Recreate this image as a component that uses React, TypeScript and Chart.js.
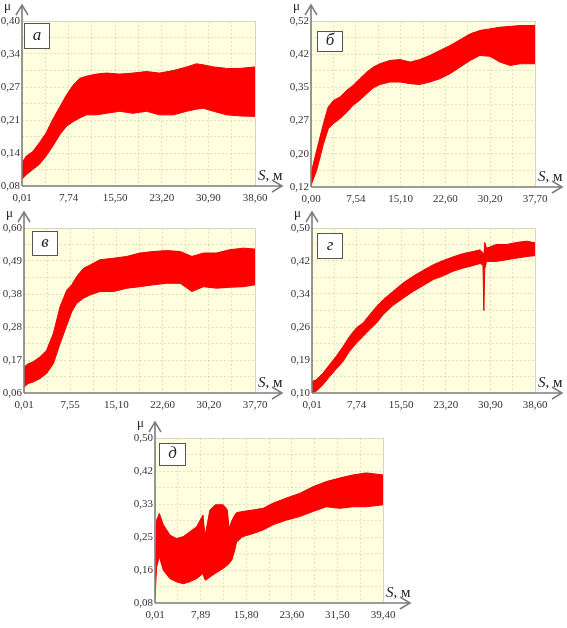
import React, { useEffect, useRef } from 'react';
import { Chart, registerables } from 'chart.js';

Chart.register(...registerables);

// ---------- Panel а ----------
const sA = [0.01, 0.73, 1.8, 2.9, 4.0, 5.1, 6.3, 7.4, 8.5, 9.6, 10.7, 12.3, 14.0, 16.2, 18.4, 20.6, 22.8, 25.1, 27.3, 28.9, 30.0, 31.7, 33.9, 36.1, 38.6];
const upA = [0.125, 0.138, 0.147, 0.164, 0.183, 0.209, 0.234, 0.257, 0.276, 0.289, 0.293, 0.297, 0.299, 0.297, 0.299, 0.302, 0.299, 0.304, 0.311, 0.317, 0.315, 0.311, 0.308, 0.308, 0.311];
const loA = [0.093, 0.102, 0.112, 0.122, 0.138, 0.157, 0.18, 0.196, 0.205, 0.212, 0.218, 0.218, 0.221, 0.225, 0.221, 0.225, 0.218, 0.218, 0.225, 0.229, 0.231, 0.225, 0.218, 0.216, 0.215];
const yLabA = ['0,08', '0,14', '0,21', '0,27', '0,34', '0,40'];
const xLabA = ['0,01', '7,74', '15,50', '23,20', '30,90', '38,60'];

// ---------- Panel б ----------
const sB = [0, 0.95, 2.1, 2.9, 3.8, 4.9, 6.0, 7.1, 8.2, 9.4, 10.5, 11.6, 13.3, 15.0, 16.7, 18.3, 20.0, 21.7, 23.4, 25.1, 26.8, 28.4, 30.1, 31.8, 33.5, 35.2, 37.7];
const upB = [0.152, 0.208, 0.273, 0.313, 0.329, 0.337, 0.353, 0.365, 0.381, 0.397, 0.409, 0.417, 0.425, 0.427, 0.421, 0.427, 0.437, 0.449, 0.461, 0.475, 0.489, 0.497, 0.501, 0.505, 0.507, 0.509, 0.509];
const loB = [0.124, 0.16, 0.224, 0.26, 0.273, 0.285, 0.3, 0.317, 0.329, 0.345, 0.359, 0.367, 0.373, 0.373, 0.369, 0.367, 0.373, 0.381, 0.393, 0.409, 0.425, 0.437, 0.435, 0.421, 0.413, 0.417, 0.417];
const yLabB = ['0,12', '0,20', '0,27', '0,35', '0,42', '0,52'];
const xLabB = ['0,00', '7,54', '15,10', '22,60', '30,20', '37,70'];

// ---------- Panel в ----------
const sV = [0.01, 0.72, 1.5, 2.6, 3.7, 4.8, 5.9, 7.0, 7.8, 8.6, 9.7, 10.8, 12.4, 14.6, 16.8, 18.9, 21.1, 23.3, 25.5, 27.4, 29.3, 31.4, 33.6, 35.8, 37.7];
const upV = [0.145, 0.156, 0.162, 0.178, 0.2, 0.255, 0.343, 0.397, 0.414, 0.441, 0.468, 0.479, 0.496, 0.501, 0.507, 0.518, 0.523, 0.526, 0.523, 0.507, 0.518, 0.518, 0.529, 0.534, 0.531];
const loV = [0.08, 0.091, 0.096, 0.107, 0.124, 0.156, 0.222, 0.282, 0.326, 0.353, 0.37, 0.381, 0.392, 0.392, 0.403, 0.408, 0.414, 0.419, 0.419, 0.392, 0.408, 0.403, 0.406, 0.408, 0.414];
const yLabV = ['0,06', '0,17', '0,28', '0,38', '0,49', '0,60'];
const xLabV = ['0,01', '7,55', '15,10', '22,60', '30,20', '37,70'];

// ---------- Panel г ----------
const sG = [0.01, 0.76, 1.9, 3.07, 4.2, 5.4, 6.5, 7.7, 8.85, 10.0, 11.2, 12.3, 14.0, 15.8, 17.5, 19.2, 21.0, 22.7, 24.4, 26.2, 27.9, 29.1, 29.6, 29.75, 29.9, 30.2, 31.9, 33.7, 35.4, 37.2, 38.6];
const upG = [0.128, 0.132, 0.148, 0.169, 0.189, 0.213, 0.237, 0.258, 0.27, 0.29, 0.31, 0.326, 0.346, 0.367, 0.383, 0.397, 0.411, 0.421, 0.43, 0.438, 0.443, 0.447, 0.44, 0.43, 0.465, 0.451, 0.46, 0.46, 0.465, 0.468, 0.464];
const loG = [0.1, 0.104, 0.12, 0.14, 0.158, 0.177, 0.201, 0.221, 0.237, 0.254, 0.27, 0.29, 0.312, 0.33, 0.346, 0.36, 0.375, 0.384, 0.395, 0.403, 0.409, 0.414, 0.41, 0.3, 0.4, 0.419, 0.419, 0.423, 0.427, 0.431, 0.433];
const yLabG = ['0,10', '0,19', '0,26', '0,34', '0,42', '0,50'];
const xLabG = ['0,01', '7,74', '15,50', '23,20', '30,90', '38,60'];

// ---------- Panel д ----------
const sD = [0.01, 0.3, 0.76, 1.45, 2.6, 3.7, 4.9, 6.0, 7.2, 8.3, 8.6, 8.8, 9.5, 10.4, 11.8, 12.5, 12.8, 13.3, 13.8, 14.1, 15.2, 17.0, 18.7, 20.4, 22.7, 25.0, 27.3, 29.6, 31.9, 34.2, 36.5, 39.4];
const upD = [0.163, 0.291, 0.308, 0.279, 0.253, 0.244, 0.249, 0.261, 0.274, 0.304, 0.257, 0.262, 0.317, 0.33, 0.33, 0.317, 0.27, 0.29, 0.304, 0.31, 0.313, 0.317, 0.321, 0.334, 0.347, 0.359, 0.376, 0.389, 0.398, 0.406, 0.411, 0.406];
const loD = [0.095, 0.172, 0.198, 0.163, 0.142, 0.134, 0.129, 0.134, 0.142, 0.155, 0.14, 0.138, 0.146, 0.155, 0.168, 0.176, 0.18, 0.19, 0.215, 0.235, 0.249, 0.257, 0.266, 0.279, 0.291, 0.3, 0.313, 0.325, 0.321, 0.325, 0.325, 0.33];
const yLabD = ['0,08', '0,16', '0,25', '0,33', '0,42', '0,50'];
const xLabD = ['0,01', '7,89', '15,80', '23,60', '31,50', '39,40'];

type Spec = {
  letter: string;
  L: number; T: number; R: number; B: number;
  xMin: number; xMax: number; yMin: number; yMax: number;
  s: number[]; up: number[]; lo: number[];
  xLab: string[]; yLab: string[];
  box: [number, number, number, number];
};

const PANELS: Spec[] = [
  { letter: 'а', L: 22, T: 21, R: 255, B: 186, xMin: 0.01, xMax: 38.6, yMin: 0.08, yMax: 0.4, s: sA, up: upA, lo: loA, xLab: xLabA, yLab: yLabA, box: [2, 2, 25, 25] },
  { letter: 'б', L: 311, T: 21, R: 535, B: 187, xMin: 0, xMax: 37.7, yMin: 0.12, yMax: 0.52, s: sB, up: upB, lo: loB, xLab: xLabB, yLab: yLabB, box: [6, 10, 25, 20] },
  { letter: 'в', L: 24, T: 228, R: 255, B: 393, xMin: 0.01, xMax: 37.7, yMin: 0.06, yMax: 0.6, s: sV, up: upV, lo: loV, xLab: xLabV, yLab: yLabV, box: [8, 3, 25, 24] },
  { letter: 'г', L: 312, T: 228, R: 535, B: 393, xMin: 0.01, xMax: 38.6, yMin: 0.1, yMax: 0.5, s: sG, up: upG, lo: loG, xLab: xLabG, yLab: yLabG, box: [5, 5, 25, 25] },
  { letter: 'д', L: 155, T: 438, R: 383, B: 603, xMin: 0.01, xMax: 39.4, yMin: 0.08, yMax: 0.5, s: sD, up: upD, lo: loD, xLab: xLabD, yLab: yLabD, box: [4, 5, 26, 22] },
];

const YW = 22;
const XH = 20;
const PAD_T = 21;
const PAD_R = 31;
const SERIF = "'Liberation Serif', 'Times New Roman', serif";
const AXIS = '#7f7f7f';

const decor = {
  id: 'decor',
  beforeDraw(chart: any) {
    const { ctx, chartArea } = chart;
    const { left, top, right, bottom } = chartArea;
    ctx.save();
    ctx.fillStyle = '#ffffe0';
    ctx.fillRect(left, top, right - left, bottom - top);
    ctx.restore();
  },
  afterDraw(chart: any, _args: any, opts: any) {
    const { ctx, chartArea } = chart;
    const { left, top, right, bottom } = chartArea;
    ctx.save();
    // faint frame top/right
    ctx.strokeStyle = '#d6d6c6';
    ctx.lineWidth = 1;
    ctx.beginPath();
    ctx.moveTo(left, top + 0.5);
    ctx.lineTo(right + 0.5, top + 0.5);
    ctx.lineTo(right + 0.5, bottom);
    ctx.stroke();
    // axes with arrows
    ctx.strokeStyle = AXIS;
    ctx.lineWidth = 1.6;
    ctx.beginPath();
    ctx.moveTo(left, bottom);
    ctx.lineTo(left, top - 16);
    ctx.moveTo(left, bottom);
    ctx.lineTo(right + 27, bottom);
    // y arrow head
    ctx.moveTo(left - 6, top - 6);
    ctx.lineTo(left, top - 16);
    ctx.lineTo(left + 6, top - 6);
    // x arrow head
    ctx.moveTo(right + 17, bottom - 6);
    ctx.lineTo(right + 27, bottom);
    ctx.lineTo(right + 17, bottom + 6);
    ctx.stroke();
    // mu
    ctx.fillStyle = '#222';
    ctx.font = `13px ${SERIF}`;
    ctx.textAlign = 'left';
    ctx.textBaseline = 'alphabetic';
    ctx.fillText('μ', left - 18, top - 11);
    // S, м
    ctx.font = `italic 15px ${SERIF}`;
    const sx = right + 3;
    const sy = bottom - 6;
    ctx.fillText('S', sx, sy);
    const w = ctx.measureText('S').width;
    ctx.font = `15px ${SERIF}`;
    ctx.fillText(', м', sx + w, sy);
    // letter box
    const [dx, dy, bw, bh] = opts.box;
    ctx.fillStyle = '#ffffff';
    ctx.fillRect(left + dx, top + dy, bw, bh);
    ctx.strokeStyle = '#555';
    ctx.lineWidth = 1;
    ctx.strokeRect(left + dx + 0.5, top + dy + 0.5, bw, bh);
    ctx.fillStyle = '#222';
    ctx.font = `italic 17px ${SERIF}`;
    ctx.textAlign = 'center';
    ctx.textBaseline = 'middle';
    ctx.fillText(opts.letter, left + dx + bw / 2 + 0.5, top + dy + bh / 2);
    ctx.restore();
  },
};

function Panel({ spec }: { spec: Spec }) {
  const ref = useRef<HTMLCanvasElement>(null);
  const width = YW + (spec.R - spec.L) + PAD_R;
  const height = PAD_T + (spec.B - spec.T) + XH;
  useEffect(() => {
    const tickFont = { family: SERIF, size: 11 };
    const gridOpts = { color: 'rgba(175,175,135,0.38)', lineWidth: 1, drawTicks: false };
    const chart = new Chart(ref.current as HTMLCanvasElement, {
      type: 'line',
      data: {
        datasets: [
          {
            data: spec.s.map((x, i) => ({ x, y: spec.up[i] })),
            fill: '+1',
            backgroundColor: '#ff0000',
            borderColor: '#e80000',
            borderWidth: 1,
            pointRadius: 0,
            tension: 0,
          },
          {
            data: spec.s.map((x, i) => ({ x, y: spec.lo[i] })),
            fill: false,
            borderColor: '#e80000',
            borderWidth: 1,
            pointRadius: 0,
            tension: 0,
          },
        ],
      },
      options: {
        responsive: false,
        animation: false,
        devicePixelRatio: 1,
        layout: { padding: { top: PAD_T, right: PAD_R, left: 0, bottom: 0 } },
        plugins: {
          legend: { display: false },
          tooltip: { enabled: false },
          decor: { letter: spec.letter, box: spec.box },
        } as any,
        scales: {
          x: {
            type: 'linear',
            min: spec.xMin,
            max: spec.xMax,
            afterFit: (s: any) => { s.height = XH; },
            afterBuildTicks: (s: any) => {
              s.ticks = Array.from({ length: 11 }, (_, i) => ({ value: spec.xMin + (i * (spec.xMax - spec.xMin)) / 10 }));
            },
            ticks: {
              autoSkip: false,
              maxRotation: 0,
              padding: 6,
              font: tickFont,
              color: '#333',
              callback: (_v: any, i: number) => (i % 2 === 0 ? spec.xLab[i / 2] : ''),
            },
            grid: gridOpts,
            border: { display: false, dash: [2, 2] },
          },
          y: {
            type: 'linear',
            min: spec.yMin,
            max: spec.yMax,
            afterFit: (s: any) => { s.width = YW; },
            afterBuildTicks: (s: any) => {
              s.ticks = Array.from({ length: 11 }, (_, i) => ({ value: spec.yMin + (i * (spec.yMax - spec.yMin)) / 10 }));
            },
            ticks: {
              autoSkip: false,
              padding: 2,
              font: tickFont,
              color: '#333',
              callback: (_v: any, i: number) => (i % 2 === 0 ? spec.yLab[i / 2] : ''),
            },
            grid: gridOpts,
            border: { display: false, dash: [2, 2] },
          },
        },
      } as any,
      plugins: [decor],
    });
    return () => chart.destroy();
  }, []);
  return (
    <canvas
      ref={ref}
      width={width}
      height={height}
      style={{ position: 'absolute', left: spec.L - YW, top: spec.T - PAD_T, width, height }}
    />
  );
}

export default function App() {
  return (
    <div style={{ position: 'absolute', left: 0, top: 0, width: 567, height: 628, overflow: 'hidden', background: '#fff' }}>
      {PANELS.map((p) => (
        <Panel key={p.letter} spec={p} />
      ))}
    </div>
  );
}
